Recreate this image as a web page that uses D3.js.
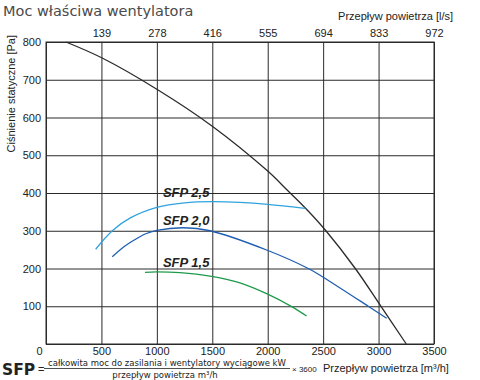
<!DOCTYPE html>
<html>
<head>
<meta charset="utf-8">
<script src="https://cdn.jsdelivr.net/npm/d3@7"></script>
<style>
  body { margin: 0; background: #fff; }
  svg { display: block; font-family: "Liberation Sans", Arial, sans-serif; }
  .os text { font-size: 11px; fill: #222; }
  .os .domain { display: none; }
  .siatka line { stroke: #2a2a2a; stroke-width: 1; }
  .siatka .domain { display: none; }
</style>
</head>
<body>
<div id="okvir"></div>
<script>
// dane
const przeplywTicks = [0, 500, 1000, 1500, 2000, 2500, 3000, 3500];
const przeplywLs = ["139", "278", "416", "555", "694", "833", "972"];
const cisnienieTicks = [0, 100, 200, 300, 400, 500, 600, 700, 800];

const wentQ = [180, 511, 1000, 1500, 2000, 2175, 2350, 2525, 2790, 3010, 3250];
const wentP = [800, 757, 675, 577, 458, 408, 357, 300, 200, 105, 0];

const sfp25Q = [448, 598, 760, 1000, 1250, 1500, 1750, 2000, 2200, 2340];
const sfp25P = [251, 300, 334, 362, 374, 377, 375, 370, 364, 359];

const sfp20Q = [598, 700, 800, 900, 1000, 1240, 1480, 1990, 2366, 2500, 2907, 3073];
const sfp20P = [231, 257, 276, 292, 301, 308, 300, 249, 200, 177, 100, 68];

const sfp15Q = [893, 1000, 1209, 1479, 1750, 2000, 2216, 2351];
const sfp15P = [190, 191, 189, 180, 162, 132, 99, 74];

const etykiety = ["SFP 2,5", "SFP 2,0", "SFP 1,5"];
const etykietyQ = [1055, 1055, 1055];
const etykietyP = [389, 315, 204];

const sirina = 480, visina = 380;
const margine = {top: 42, right: 46, bottom: 36, left: 46};
const grSirina = sirina - margine.left - margine.right;
const grVisina = visina - margine.top - margine.bottom;

const svg = d3.select("#okvir").append("svg")
    .attr("width", sirina)
    .attr("height", visina);

const g = svg.append("g")
    .attr("transform", `translate(${margine.left},${margine.top})`);

const xSkala = d3.scaleLinear().domain([0, 3500]).range([0, grSirina]);
const ySkala = d3.scaleLinear().domain([0, 800]).range([grVisina, 0]);

// siatka
g.append("g").attr("class", "siatka")
    .call(d3.axisBottom(xSkala).tickValues(przeplywTicks).tickSize(grVisina).tickFormat(""));
g.append("g").attr("class", "siatka")
    .call(d3.axisLeft(ySkala).tickValues(cisnienieTicks).tickSize(-grSirina).tickFormat(""));

g.append("rect")
    .attr("width", grSirina)
    .attr("height", grVisina)
    .attr("fill", "none")
    .attr("stroke", "#2a2a2a")
    .attr("stroke-width", 1);

// osie
const xOs = g.append("g").attr("class", "os")
    .attr("transform", `translate(0,${grVisina})`)
    .call(d3.axisBottom(xSkala).tickValues(przeplywTicks).tickSize(0).tickPadding(3)
        .tickFormat(d3.format("d")));
xOs.selectAll(".tick text").filter(d => d === 0).attr("dx", -7);

g.append("g").attr("class", "os")
    .call(d3.axisTop(xSkala).tickValues(przeplywTicks.slice(1)).tickSize(0).tickPadding(5)
        .tickFormat((d, i) => przeplywLs[i]));

const yOs = g.append("g").attr("class", "os")
    .call(d3.axisLeft(ySkala).tickValues(cisnienieTicks).tickSize(0).tickPadding(5));
yOs.selectAll(".tick").filter(d => d === 0).remove();

// krzywe
const linia = d3.line()
    .x(d => xSkala(d[0]))
    .y(d => ySkala(d[1]))
    .curve(d3.curveCatmullRom.alpha(0.5));

const krzywe = [
    {q: wentQ, p: wentP, kolor: "#2b2b2b", w: 1.3},
    {q: sfp25Q, p: sfp25P, kolor: "#2fa3de", w: 1.3},
    {q: sfp20Q, p: sfp20P, kolor: "#1f5eb2", w: 1.3},
    {q: sfp15Q, p: sfp15P, kolor: "#1e9a4c", w: 1.3}
];

g.selectAll(".krzywa")
    .data(krzywe)
    .enter().append("path")
    .attr("class", "krzywa")
    .attr("d", k => linia(k.q.map((q, i) => [q, k.p[i]])))
    .attr("fill", "none")
    .attr("stroke", k => k.kolor)
    .attr("stroke-width", k => k.w);

g.selectAll(".sfp")
    .data(etykiety)
    .enter().append("text")
    .attr("class", "sfp")
    .attr("x", (d, i) => xSkala(etykietyQ[i]))
    .attr("y", (d, i) => ySkala(etykietyP[i]))
    .attr("font-size", 13)
    .attr("font-weight", "bold")
    .attr("font-style", "italic")
    .attr("fill", "#222")
    .text(d => d);

// tytuly
svg.append("text")
    .attr("x", 3).attr("y", 16)
    .attr("font-family", "'DejaVu Sans', Verdana, sans-serif")
    .attr("font-size", 14.5)
    .attr("fill", "#4a4a4a")
    .text("Moc właściwa wentylatora");

svg.append("text")
    .attr("x", 453).attr("y", 20)
    .attr("text-anchor", "end")
    .attr("font-size", 11)
    .attr("fill", "#222")
    .text("Przepływ powietrza [l/s]");

svg.append("text")
    .attr("transform", "translate(15,35) rotate(-90)")
    .attr("text-anchor", "end")
    .attr("font-size", 11)
    .attr("fill", "#222")
    .text("Ciśnienie statyczne [Pa]");

// wzor SFP
const wzor = svg.append("g").attr("fill", "#222");
wzor.append("text")
    .attr("x", 2).attr("y", 375)
    .attr("font-family", "'DejaVu Sans', Verdana, sans-serif")
    .attr("font-size", 15.5).attr("font-weight", "bold")
    .text("SFP");
wzor.append("text")
    .attr("x", 38).attr("y", 373)
    .attr("font-size", 11)
    .text("=");
wzor.append("text")
    .attr("x", 167).attr("y", 365.5)
    .attr("text-anchor", "middle")
    .attr("font-family", "'DejaVu Sans', Verdana, sans-serif")
    .attr("font-size", 8.5)
    .text("całkowita moc do zasilania i wentylatory wyciągowe kW");
wzor.append("line")
    .attr("x1", 44).attr("x2", 290)
    .attr("y1", 368.5).attr("y2", 368.5)
    .attr("stroke", "#222").attr("stroke-width", 0.8);
wzor.append("text")
    .attr("x", 165).attr("y", 378)
    .attr("text-anchor", "middle")
    .attr("font-family", "'DejaVu Sans', Verdana, sans-serif")
    .attr("font-size", 8.5)
    .text("przepływ powietrza m³/h");
wzor.append("text")
    .attr("x", 292).attr("y", 372)
    .attr("font-size", 8)
    .text("× 3600");
wzor.append("text")
    .attr("x", 323).attr("y", 372)
    .attr("font-size", 11)
    .text("Przepływ powietrza [m³/h]");
</script>
</body>
</html>
